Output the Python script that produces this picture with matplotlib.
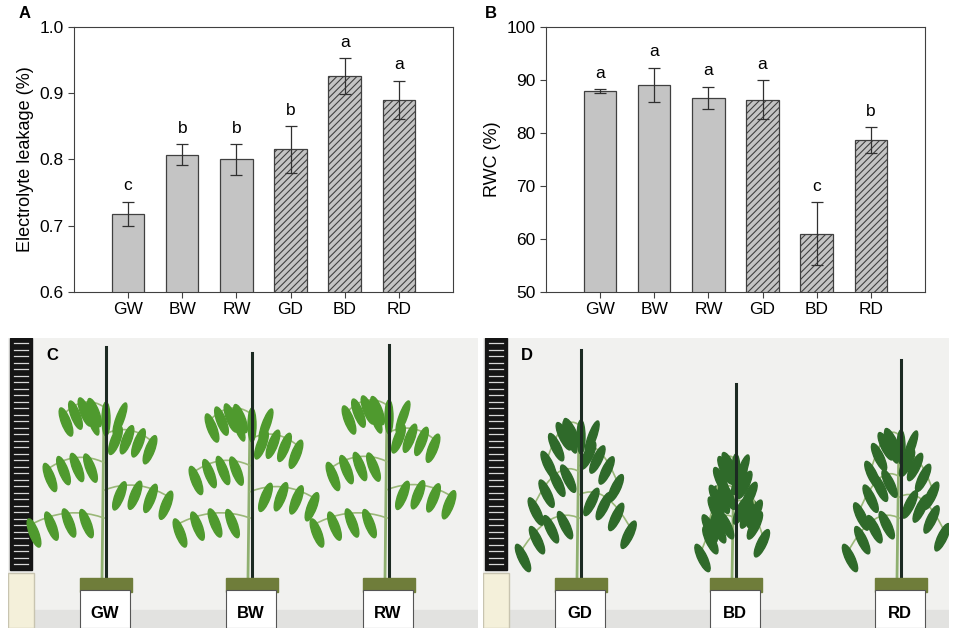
import numpy as np
import matplotlib
matplotlib.use("Agg")
import matplotlib.pyplot as plt
from matplotlib.patches import Rectangle, Polygon, Ellipse

plt.rcParams['font.family'] = ['Liberation Sans', 'DejaVu Sans']
plt.rcParams['hatch.linewidth'] = 0.8

# data
groups = ['GW', 'BW', 'RW', 'GD', 'BD', 'RD']
leak = [0.718, 0.807, 0.800, 0.815, 0.926, 0.890]
leak_err = [0.018, 0.016, 0.023, 0.035, 0.027, 0.029]
leak_sig = ['c', 'b', 'b', 'b', 'a', 'a']
rwc = [87.9, 89.1, 86.6, 86.3, 61.0, 78.7]
rwc_err = [0.3, 3.2, 2.1, 3.7, 5.9, 2.4]
rwc_sig = ['a', 'a', 'a', 'a', 'c', 'b']
drought = [False, False, False, True, True, True]

fig = plt.figure(figsize=(9.57, 6.36), dpi=100)


def bar_panel(ax, vals, errs, sig, ylim, yticks, ylabel, yfmt):
    x = np.arange(len(groups))
    for i in range(len(groups)):
        ax.bar(x[i], vals[i], width=0.6, color='#c4c4c4', edgecolor='#404040',
               linewidth=0.9, hatch='/////' if drought[i] else None, zorder=2)
    ax.errorbar(x, vals, yerr=errs, fmt='none', ecolor='#303030',
                elinewidth=0.9, capsize=4, capthick=0.9, zorder=3)
    for i in range(len(groups)):
        ax.annotate(sig[i], (x[i], vals[i] + errs[i]), xytext=(0, 6),
                    textcoords='offset points', ha='center', va='bottom',
                    fontsize=12.5)
    ax.set_xlim(-1, 6)
    ax.set_ylim(*ylim)
    ax.set_yticks(yticks)
    ax.set_yticklabels([yfmt.format(t) for t in yticks])
    ax.set_xticks(x)
    ax.set_xticklabels(groups)
    ax.tick_params(axis='both', labelsize=12.5, direction='out', length=4,
                   width=0.8, color='#404040')
    ax.set_ylabel(ylabel, fontsize=13)
    for s in ax.spines.values():
        s.set_linewidth(0.8)
        s.set_color('#404040')


axA = fig.add_axes([0.0773, 0.541, 0.396, 0.4167])
bar_panel(axA, leak, leak_err, leak_sig, (0.6, 1.0),
          [0.6, 0.7, 0.8, 0.9, 1.0], 'Electrolyte leakage (%)', '{:.1f}')
axB = fig.add_axes([0.5705, 0.541, 0.396, 0.4167])
bar_panel(axB, rwc, rwc_err, rwc_sig, (50, 100),
          [50, 60, 70, 80, 90, 100], 'RWC (%)', '{:.0f}')

fig.text(0.019, 0.978, 'A', fontsize=12, fontweight='bold', va='center')
fig.text(0.507, 0.978, 'B', fontsize=12, fontweight='bold', va='center')

# photo panels (drawn as simple sketches, pixel coords inside each panel)
panel_C = [8, 338, 470, 290]    # x, y(top), w, h in figure pixels
panel_D = [483, 338, 466, 290]
c_labels = ['GW', 'BW', 'RW']
d_labels = ['GD', 'BD', 'RD']
c_stake_x = [98, 244, 381]
c_stake_top = [281, 275, 283]
d_stake_x = [98, 253, 418]
d_stake_top = [278, 244, 268]
c_spread = [1.0, 1.0, 1.0]
d_spread = [0.8, 0.45, 0.7]
wilt_c = False
wilt_d = True


def draw_plant(ax, x0, top, spread, wilt, green):
    base = 50
    ax.plot([x0, x0], [base, top], color='#1c2a22', lw=2.2, zorder=3)
    stem_top = top - 60 if not wilt else top - 75
    ax.plot([x0 - 4, x0 - 2], [base, stem_top], color='#8fb070', lw=2, zorder=2)
    n_br = 5
    for k in range(n_br):
        yb = base + 60 + k * (stem_top - base - 60) / (n_br - 1)
        side = -1 if k % 2 == 0 else 1
        L = (70 - 8 * k) * spread
        droop = 30 if not wilt else 55
        t = np.linspace(0, 1, 12)
        bx = x0 - 2 + side * L * t
        by = yb + 25 * t - droop * t ** 2
        ax.plot(bx, by, color='#9ab878', lw=1.2, zorder=2)
        for j in range(1, 5):
            tt = j / 4.0
            px = x0 - 2 + side * L * tt
            py = yb + 25 * tt - droop * tt ** 2
            ang = -70 * side if not wilt else -85 * side
            ax.add_patch(Ellipse((px, py - 10), 9, 30, angle=ang * 0.3,
                                 color=green, zorder=2))
    for a in (-1, 0, 1):
        ax.add_patch(Ellipse((x0 + a * 14 * spread, stem_top - 12), 8, 34,
                             angle=-a * 20, color=green, zorder=2))


def photo_panel(rect, letter, labels, stake_x, stake_top, spreads, wilt, green):
    W, H = fig.get_size_inches() * fig.dpi
    x, y, w, h = rect
    ax = fig.add_axes([x / W, 1 - (y + h) / H, w / W, h / H])
    ax.set_xlim(0, w)
    ax.set_ylim(0, h)
    ax.axis('off')
    ax.add_patch(Rectangle((0, 0), w, h, color='#f1f1ef', zorder=0))
    ax.add_patch(Rectangle((0, 0), w, 18, color='#e2e2e0', zorder=0))
    # ruler
    ax.add_patch(Rectangle((2, 58), 22, h - 58, color='#151515', zorder=1))
    for yy in np.arange(64, h - 4, 6.5):
        ax.plot([6, 20], [yy, yy], color='#d8d8d8', lw=0.9, zorder=1)
    ax.add_patch(Rectangle((0, 0), 26, 55, color='#f4f0da', ec='#c8c4b0', zorder=1))
    ax.text(38, h - 17, letter, fontsize=12, fontweight='bold', va='center', zorder=5)
    for i in range(len(labels)):
        draw_plant(ax, stake_x[i], stake_top[i], spreads[i], wilt, green)
        ax.add_patch(Rectangle((stake_x[i] - 26, 36), 52, 14, color='#6f7d3a', zorder=3))
        ax.add_patch(Rectangle((stake_x[i] - 26, 0), 50, 38, fc='white',
                               ec='#555555', lw=0.8, zorder=4))
        ax.text(stake_x[i] - 1, 14, labels[i], fontsize=12, fontweight='bold',
                ha='center', va='center', zorder=5)


photo_panel(panel_C, 'C', c_labels, c_stake_x, c_stake_top, c_spread, wilt_c, '#4f9a2e')
photo_panel(panel_D, 'D', d_labels, d_stake_x, d_stake_top, d_spread, wilt_d, '#2f6a2a')

fig.savefig('out.png', dpi=100)
